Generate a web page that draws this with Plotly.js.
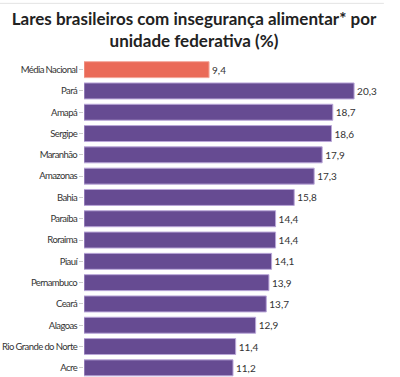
<!DOCTYPE html>
<html><head><meta charset="utf-8">
<script src="https://cdn.plot.ly/plotly-3.0.1.min.js"></script>
<style>html,body{margin:0;padding:0;overflow:hidden;background:#fff}#c{width:400px;height:377px}
.yaxislayer-above text{letter-spacing:-0.6px}</style>
</head><body><div id="c"></div>
<script>
const categories = ["Média Nacional","Pará","Amapá","Sergipe","Maranhão","Amazonas","Bahia","Paraíba","Roraima","Piauí","Pernambuco","Ceará","Alagoas","Rio Grande do Norte","Acre"];
const values = [9.4,20.3,18.7,18.6,17.9,17.3,15.8,14.4,14.4,14.1,13.9,13.7,12.9,11.4,11.2];
const highlight = "Média Nacional";

const colors = categories.map(c => c === highlight ? "#EA6A58" : "#664B92");
const lines = categories.map(c => c === highlight ? "#F3A89C" : "#B9A6D8");
const labels = values.map(v => v.toFixed(1).replace(".", ","));

Plotly.newPlot("c", [{
  type: "bar", orientation: "h",
  y: categories, x: values,
  marker: {color: colors, line: {color: lines, width: 1}},
  text: labels, textposition: "outside", cliponaxis: false,
  textfont: {family: "Lato, sans-serif", size: 10, color: "#333"},
  hoverinfo: "none"
}], {
  width: 400, height: 377,
  margin: {l: 84, r: 10, t: 59, b: 0},
  bargap: 0.25,
  font: {family: "Lato, sans-serif"},
  title: {text: "<b>Lares brasileiros com insegurança alimentar* por<br>unidade federativa (%)</b>",
          font: {family: "Lato, sans-serif", size: 17, color: "#222"},
          x: 0.485, xref: "container", xanchor: "center", y: 0.935, yref: "container", yanchor: "top"},
  xaxis: {range: [0, 23], visible: false, fixedrange: true},
  yaxis: {range: [14.43, -0.5], ticks: "outside", ticklen: 4, tickcolor: "#ccc", tickwidth: 1,
          tickfont: {family: "Lato, sans-serif", size: 9.5, color: "#333"},
          showline: false, showgrid: false},
  shapes: [{type: "line", xref: "paper", yref: "paper", x0: -0.275, x1: 0.98, y0: 1.175, y1: 1.175, line: {color: "#e3e3e3", width: 1}}],
  showlegend: false, plot_bgcolor: "#fff", paper_bgcolor: "#fff"
}, {displayModeBar: false, staticPlot: true});
</script></body></html>
